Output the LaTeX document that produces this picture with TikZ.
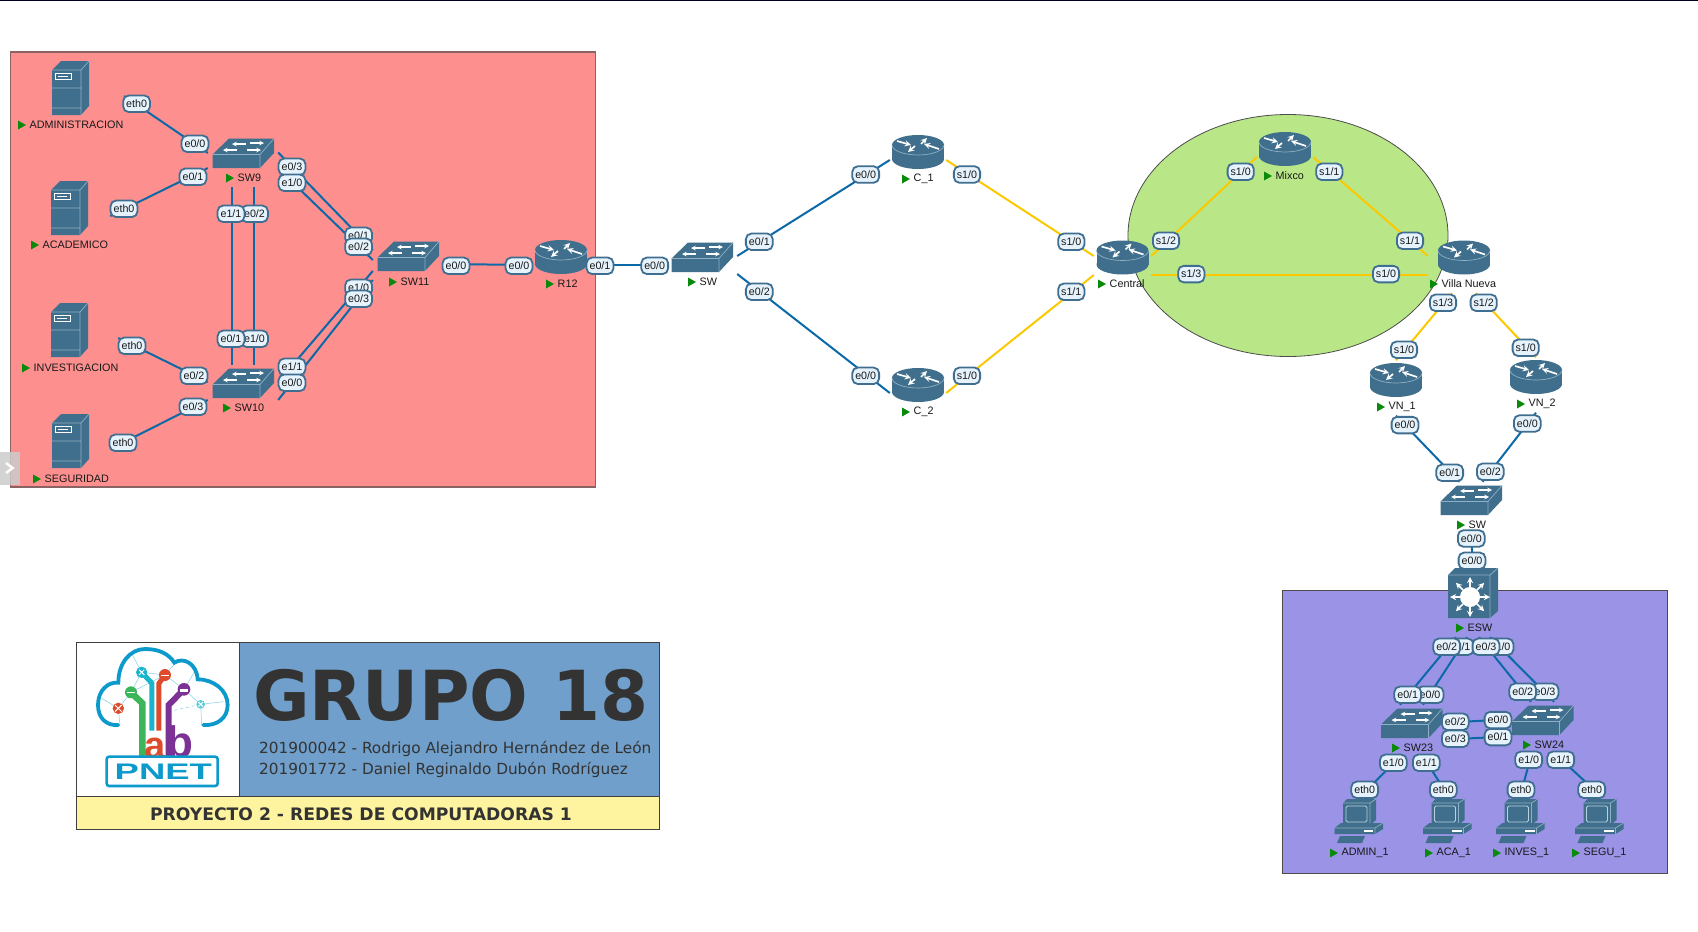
\documentclass[tikz,border=0pt]{standalone}
\usepackage{fontspec}
\setmainfont{Liberation Sans}
\newfontfamily\bannerfont{DejaVu Sans}
\definecolor{redzone}{HTML}{FD8F8F}
\definecolor{redzoneedge}{HTML}{8A6464}
\definecolor{greenzone}{HTML}{B9E788}
\definecolor{bluezone}{HTML}{9A93E6}
\definecolor{devfill}{HTML}{3F6F8C}
\definecolor{devedge}{HTML}{8FB0C4}
\definecolor{ethblue}{HTML}{0B69A8}
\definecolor{seryellow}{HTML}{FCC800}
\definecolor{portfill}{HTML}{E6F3FC}
\definecolor{portedge}{HTML}{3F6E90}
\definecolor{startgreen}{HTML}{0A8A0A}
\definecolor{bannerblue}{HTML}{6F9FCA}
\definecolor{banneryellow}{HTML}{FEF4A0}
\definecolor{inkgrey}{HTML}{333333}
\definecolor{logocyan}{HTML}{0B9ACB}
\definecolor{logogreen}{HTML}{3DB55A}
\definecolor{logored}{HTML}{DD4B2C}
\definecolor{logopurple}{HTML}{7C3294}
\definecolor{logoteal}{HTML}{18B5CC}
\tikzset{
  ethline/.style={draw=ethblue, line width=2pt},
  serline/.style={draw=seryellow, line width=2pt},
  devbox/.style={inner sep=0pt, minimum width=#1},
  portlabel/.style={draw=portedge, fill=portfill, line width=1.8pt, rounded corners=5.5pt,
    inner xsep=3pt, inner ysep=0pt, minimum height=16.5pt, text=black!90,
    font=\fontsize{10.7}{12}\selectfont},
  devtext/.style={anchor=west, inner sep=0pt, text=black!90,
    font=\fontsize{10.8}{12}\selectfont},
  whitearrow/.style={white, line width=1.7pt, -stealth},
  rim/.style={draw=devedge, line width=.7pt},
  routericon/.pic={
    \fill[devfill] (-26,-7) rectangle (26,7);
    \fill[devfill] (0,-7) ellipse [x radius=26, y radius=10];
    \fill[devfill] (0,7) ellipse [x radius=26, y radius=10];
    \draw[rim] (-26,-7) arc [start angle=180, end angle=0, x radius=26, y radius=10];
    \draw[whitearrow] (-21,-11) -- (-7,-7);
    \draw[whitearrow] (21,-3) -- (6,-8);
    \draw[whitearrow] (3,-8) -- (9,-14);
    \draw[whitearrow] (-3,-6) -- (-10,0);
  },
  switchicon/.pic={
    \fill[devfill] (-30.5,1.5) -- (-14,-14.5) -- (31,-14.5) -- (31,0) -- (17,15) -- (-30.5,15) -- cycle;
    \draw[rim] (-30.5,1.5) -- (17,1.5) -- (31,-14.5) (17,1.5) -- (17,15);
    \foreach \xa/\xb/\ya in {3/-11/-9, 7/21/-10, -6/-20/-3, 4/18/-3}
      \draw[whitearrow, line width=1.1pt] (\xa,\ya) -- (\xb,\ya);
  },
  esficon/.pic={
    \fill[devfill] (-25,-18) -- (-18,-25) -- (25,-25) -- (25,18) -- (17,25) -- (-25,25) -- cycle;
    \draw[rim] (-25,-18) -- (17,-18) -- (25,-25) (17,-18) -- (17,25);
    \fill[white] (-3,4) circle [radius=10];
    \foreach \a in {0,45,...,315}
      \draw[whitearrow] (-3,4) ++(\a:10) -- ++(\a:10);
  },
  servericon/.pic={
    \fill[devfill] (-19,-18) -- (-10,-27) -- (18,-27) -- (18,18) -- (10,27) -- (-19,27) -- cycle;
    \draw[rim] (-19,-18) -- (10,-18) -- (18,-27) (10,-18) -- (10,27) (-19,0) -- (10,0) (-19,20) -- (10,20);
    \draw[white, line width=.8pt] (-16,-15) rectangle (0,-9);
    \draw[white, line width=.8pt] (-13,-12) -- (-3,-12);
  },
  pcicon/.pic={
    \fill[devfill] (-16,-18) -- (-12,-22) -- (17,-22) -- (17,-1) -- (11,4) -- (-16,4) -- cycle;
    \draw[rim] (-16,-18) -- (11,-18) -- (17,-22) (11,-18) -- (11,4);
    \draw[devedge!60!white, line width=.9pt, rounded corners=1.5pt] (-13,-15) rectangle (8,1);
    \fill[devfill] (-12,4) rectangle (8,7);
    \fill[devfill] (-24.5,7) -- (-18,2) -- (24,2) -- (24,8) -- (16,13) -- (-24.5,13) -- cycle;
    \draw[rim] (-24.5,7) -- (16,7) -- (24,2) (16,7) -- (16,13);
    \fill[white] (4.5,9.2) rectangle (14,11);
    \fill[devfill] (-22,22) -- (-19,15) -- (6,15) -- (3,22) -- cycle;
  },
}
\begin{document}
\begin{tikzpicture}[x=1pt, y=-1pt, >=stealth]
  \useasboundingbox (0,0) rectangle (1698,932);
  \fill[white] (0,0) rectangle (1698,932);
  \fill[black!85!blue] (0,0) rectangle (1698,1.2);

  % --- zones ---
  \draw[draw=redzoneedge, fill=redzone, line width=1.2pt] (10.5,52) rectangle (595.5,487);
  \draw[draw=black!70, fill=greenzone, line width=.8pt] (1288,235.5) ellipse [x radius=160, y radius=121];
  \draw[draw=black!70, fill=bluezone, line width=1pt] (1282,590.5) rectangle (1667,873);

  % --- devices (box for the links, icon on top) ---
  \foreach \devname/\x/\y/\boxw in {SrvAdm/71/88/106, SrvAca/70/208/80, SrvInv/70/330/96, SrvSeg/71/441/78} {
    \node[devbox=\boxw pt, minimum height=60pt] (\devname) at (\x,\y+8) {};
    \pic at (\x,\y) {servericon};
  }
  \foreach \devname/\x/\y/\boxw in {R12/561/257/58, C1/918/152/56, C2/918/385/56, Central/1122.5/257.5/57,
      Mixco/1285/149/56, Villa/1464/257.5/72, VN1/1396/380/56, VN2/1536/377/56} {
    \node[devbox=\boxw pt, minimum height=55pt] (\devname) at (\x,\y+8) {};
    \pic at (\x,\y) {routericon};
  }
  \foreach \devname/\x/\y/\boxw in {SW9/243/153/70, SW10/243/383/70, SW11/408/256/70, SWcore/702/257/70,
      SWvilla/1471/500/70, SW23/1411.5/723/71, SW24/1542.5/720/71} {
    \node[devbox=\boxw pt, minimum height=52pt] (\devname) at (\x,\y+8) {};
    \pic at (\x,\y) {switchicon};
  }
  \node[devbox=56pt, minimum height=72pt] (ESW) at (1473,601) {};
  \pic at (1473,593) {esficon};
  \foreach \devname/\x in {PCadm/1359, PCaca/1447.5, PCinv/1520.5, PCseg/1599.5} {
    \node[devbox=50pt, minimum height=52pt] (\devname) at (\x,821) {};
    \pic at (\x,821) {pcicon};
  }

  % --- links ---
  \draw[ethline] (SrvAdm.east) -- ([yshift=8pt]SW9.west);
  \draw[ethline] (SrvAca.east) -- ([yshift=-7pt]SW9.west);
  \draw[ethline] (SrvInv.east) -- ([yshift=9pt]SW10.west);
  \draw[ethline] (SrvSeg.east) -- ([yshift=-9pt]SW10.west);
  \draw[ethline] ([xshift=-11pt]SW9.south) -- ([xshift=-11pt]SW10.north);
  \draw[ethline] ([xshift=11pt]SW9.south) -- ([xshift=11pt]SW10.north);
  \draw[ethline] ([yshift=8.5pt]SW9.east) -- ([yshift=14pt]SW11.west);
  \draw[ethline] ([yshift=-7.5pt]SW9.east) -- ([yshift=4pt]SW11.west);
  \draw[ethline] ([yshift=9pt]SW10.east) -- ([yshift=-7pt]SW11.west);
  \draw[ethline] ([yshift=-9pt]SW10.east) -- ([yshift=-16pt]SW11.west);
  \draw[ethline] (SW11.east) -- (R12.west);
  \draw[ethline] (R12.east) -- (SWcore.west);
  \draw[ethline] ([yshift=9pt]SWcore.east) -- (C1.west);
  \draw[ethline] ([yshift=-9pt]SWcore.east) -- (C2.west);
  \draw[serline] (C1.east) -- ([yshift=9.5pt]Central.west);
  \draw[serline] (C2.east) -- ([yshift=-9.5pt]Central.west);
  \draw[serline] ([yshift=9.5pt]Central.east) -- (Mixco.west);
  \draw[serline] (Mixco.east) -- ([yshift=9.5pt]Villa.west);
  \draw[serline] ([yshift=-9.5pt]Central.east) -- ([yshift=-9.5pt]Villa.west);
  \draw[serline] ([xshift=-12pt]Villa.south) -- (VN1.north);
  \draw[serline] ([xshift=12pt]Villa.south) -- (VN2.north);
  \draw[ethline] (VN1.south) -- ([xshift=-11.5pt]SWvilla.north);
  \draw[ethline] (VN2.south) -- ([xshift=11.5pt]SWvilla.north);
  \draw[ethline] (SWvilla.south) -- (ESW.north);
  \draw[ethline] ([xshift=-17pt]ESW.south) -- ([xshift=-11.5pt]SW23.north);
  \draw[ethline] ([xshift=-6pt]ESW.south) -- ([xshift=11.5pt]SW23.north);
  \draw[ethline] ([xshift=6pt]ESW.south) -- ([xshift=-11.5pt]SW24.north);
  \draw[ethline] ([xshift=17pt]ESW.south) -- ([xshift=11.5pt]SW24.north);
  \draw[ethline] ([yshift=8.5pt]SW23.east) -- ([yshift=8.5pt]SW24.west);
  \draw[ethline] ([yshift=-8.5pt]SW23.east) -- ([yshift=-8.5pt]SW24.west);
  \draw[ethline] ([xshift=-12pt]SW23.south) -- ([xshift=3pt]PCadm.north);
  \draw[ethline] ([xshift=12pt]SW23.south) -- (PCaca.north);
  \draw[ethline] ([xshift=-11pt]SW24.south) -- (PCinv.north);
  \draw[ethline] ([xshift=13pt]SW24.south) -- (PCseg.north);

  % --- interface labels ---
  \foreach \x/\y/\txt [count=\i] in {
      136.6/103/{eth0}, 195/143/{e0/0}, 124/208/{eth0}, 193/176/{e0/1}, 132/345/{eth0}, 194/375/{e0/2},
      123/442/{eth0}, 193/406/{e0/3}, 292/166/{e0/3}, 292/182/{e1/0}, 254.5/213/{e0/2}, 231/213/{e1/1},
      254.5/338/{e1/0}, 231/338/{e0/1}, 358.6/235/{e0/1}, 358.6/246/{e0/2}, 358.6/287/{e1/0}, 358.6/298/{e0/3},
      292/366/{e1/1}, 292/382/{e0/0}, 456/265/{e0/0}, 519/265/{e0/0}, 600/265/{e0/1}, 654.7/265/{e0/0},
      759.3/241/{e0/1}, 759.3/291/{e0/2}, 865.7/173.7/{e0/0}, 967/173.7/{s1/0}, 1071.3/241/{s1/0}, 1071.3/291/{s1/1},
      865.7/375/{e0/0}, 967/375/{s1/0}, 1240.7/171/{s1/0}, 1329.3/171/{s1/1}, 1166/240/{s1/2}, 1410/240/{s1/1},
      1191.3/273.3/{s1/3}, 1386/273.3/{s1/0}, 1443/302/{s1/3}, 1483.7/302/{s1/2}, 1404/349/{s1/0}, 1525.7/347/{s1/0},
      1405/424.3/{e0/0}, 1527.3/422.7/{e0/0}, 1449.7/472/{e0/1}, 1490.3/471/{e0/2}, 1471.3/537.7/{e0/0}, 1472/560/{e0/0},
      1460/646/{e0/1}, 1446.7/646/{e0/2}, 1500/646/{e1/0}, 1486/646/{e0/3}, 1430/694/{e0/0}, 1407.7/694/{e0/1},
      1545/691/{e0/3}, 1522.7/691/{e0/2}, 1455.3/721/{e0/2}, 1455.3/738/{e0/3}, 1498/719.3/{e0/0}, 1498/736.3/{e0/1},
      1393.3/762/{e1/0}, 1426.3/762/{e1/1}, 1528.7/759/{e1/0}, 1560.7/759/{e1/1},
      1364.7/789/{eth0}, 1443.3/789/{eth0}, 1521/789/{eth0}, 1591.7/789/{eth0}}
    \node[portlabel] (port\i) at (\x,\y+.8) {\txt};

  % --- device names with the green start mark ---
  \foreach \x/\y/\txt [count=\i] in {
      18/125/ADMINISTRACION, 31/245/ACADEMICO, 22/368/INVESTIGACION, 33/479/SEGURIDAD,
      226/178/SW9, 223/408/SW10, 389/282/SW11, 546/284/R12, 688/282/SW, 902/179/C\_1, 902/412/C\_2,
      1098/284/Central, 1264/176/Mixco, 1430/284/Villa Nueva, 1377/407/VN\_1, 1517/404/VN\_2,
      1457/525/SW, 1456/628/ESW, 1392/748/SW23, 1523/745/SW24,
      1330/853/ADMIN\_1, 1425/853/ACA\_1, 1493/853/INVES\_1, 1572/853/SEGU\_1} {
    \fill[startgreen] (\x,\y-4.5) -- (\x+8,\y) -- (\x,\y+4.5) -- cycle;
    \node[devtext] (name\i) at (\x+11.5,\y) {\txt};
  }

  % --- side tab ---
  \fill[black!20, opacity=.85] (0,452) rectangle (20,485);
  \draw[white, line width=2.4pt] (6,463) -- (12.7,468) -- (6,473);

  % --- banner ---
  \draw[draw=black!75, fill=white, line width=1pt] (76,642) rectangle (239,796);
  \draw[draw=black!75, fill=bannerblue, line width=1pt] (239,642) rectangle (659,796);
  \draw[draw=black!75, fill=banneryellow, line width=1pt] (76,796) rectangle (659,829);
  \node[anchor=west, inner sep=0pt, text=inkgrey, font=\bannerfont\bfseries\fontsize{69}{70}\selectfont] (grupo) at (253,695) {GRUPO 18};
  \node[anchor=west, inner sep=0pt, text=inkgrey, font=\bannerfont\fontsize{15.3}{17}\selectfont] (carne1) at (259,749) {201900042 - Rodrigo Alejandro Hernández de León};
  \node[anchor=west, inner sep=0pt, text=inkgrey, font=\bannerfont\fontsize{15.3}{17}\selectfont] (carne2) at (259,770) {201901772 - Daniel Reginaldo Dubón Rodríguez};
  \node[inner sep=0pt, text=inkgrey, font=\bannerfont\bfseries\fontsize{17.2}{19}\selectfont] (proyecto) at (361,814) {PROYECTO 2 - REDES DE COMPUTADORAS 1};

  % --- logo ---
  \begin{scope}[shift={(85,640)}, x=.3333pt, y=-.3333pt]
    \draw[logocyan!50, line width=.5pt] (100,205) -- (138,157) -- (170,97) -- (240,105) -- (297,148) -- (347,193) -- (415,185);
    \draw[logocyan!50, line width=.5pt] (50,175) -- (100,205) -- (105,255) (138,157) -- (240,105) (140,40) -- (170,97) (240,105) -- (275,65) (297,148) -- (335,85) (347,193) -- (350,255);
    \draw[logocyan!50, line width=.5pt, dashed] (250,215) -- (347,193);
    \draw[logocyan, line width=3.8pt, line cap=round]
      (100,255) .. controls (65,258) and (39,235) .. (39,195)
      .. controls (39,150) and (70,125) .. (100,128)
      .. controls (100,70) and (135,27) .. (180,27)
      .. controls (220,27) and (250,40) .. (268,68)
      .. controls (295,50) and (335,70) .. (338,118)
      .. controls (385,118) and (428,150) .. (428,195)
      .. controls (428,235) and (395,258) .. (355,255);
    \draw[logogreen, line width=6.5pt] (138,157) -- (172,190) -- (172,352);
    \draw[logoteal, line width=5pt] (170,97) -- (201,130) -- (201,272);
    \draw[logored, line width=5pt] (240,105) -- (222,130) -- (222,272);
    \draw[logopurple, line width=6pt] (297,148) -- (251,195) -- (251,352);
    \fill[logored] (100,205) circle [radius=17];
    \fill[logogreen] (138,157) circle [radius=18];
    \fill[logoteal] (170,97) circle [radius=17];
    \fill[logored] (240,105) circle [radius=18];
    \fill[logopurple] (297,148) circle [radius=19];
    \fill[logoteal!70] (347,193) circle [radius=13];
    \draw[white, line width=1pt] (90,195) -- (110,215) (110,195) -- (90,215);
    \draw[white, line width=1pt] (126,157) -- (150,157) (228,105) -- (252,105);
    \draw[white, line width=1pt] (162,89) -- (178,105) (178,89) -- (162,105);
    \draw[white, line width=1pt] (340,186) -- (354,200) (354,186) -- (340,200);
    \fill[white] (285,148) rectangle (309,155);
    \node[inner sep=0pt, text=logored, font=\bfseries\fontsize{38}{40}\selectfont] (loga) at (210,324) {a};
    \node[inner sep=0pt, text=logopurple, font=\bfseries\fontsize{44}{46}\selectfont] (logb) at (285,306) {b};
    \draw[draw=logocyan, fill=white, line width=2.6pt, rounded corners=2.5pt] (65,350) rectangle (398,438);
    \node[inner sep=0pt, text=logocyan, xscale=1.62, font=\bfseries\fontsize{22.5}{24}\selectfont] (pnet) at (235,396) {PNET};
  \end{scope}
\end{tikzpicture}
\end{document}
